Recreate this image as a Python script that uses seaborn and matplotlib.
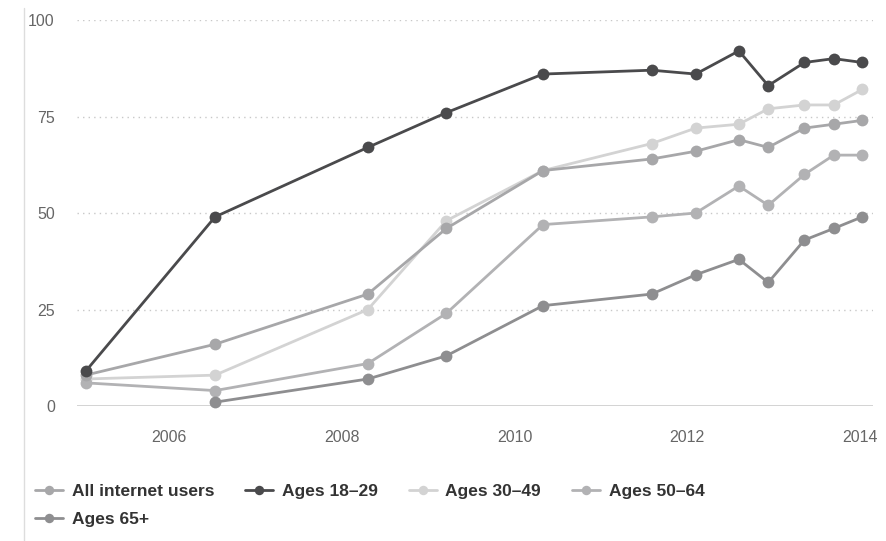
import matplotlib
matplotlib.use("Agg")
import matplotlib.pyplot as plt
import seaborn as sns
import pandas as pd
import numpy as np

# survey dates (fractional years) and share using social networking sites (%)
dates = [2005.03, 2006.53, 2008.30, 2009.21, 2010.33, 2011.59,
         2012.10, 2012.60, 2012.94, 2013.36, 2013.70, 2014.03]
all_users = [8, 16, 29, 46, 61, 64, 66, 69, 67, 72, 73, 74]
ages_18_29 = [9, 49, 67, 76, 86, 87, 86, 92, 83, 89, 90, 89]
ages_30_49 = [7, 8, 25, 48, 61, 68, 72, 73, 77, 78, 78, 82]
ages_50_64 = [6, 4, 11, 24, 47, 49, 50, 57, 52, 60, 65, 65]
ages_65 = [np.nan, 1, 7, 13, 26, 29, 34, 38, 32, 43, 46, 49]

series_names = ["All internet users", "Ages 18\u201329", "Ages 30\u201349",
                "Ages 50\u201364", "Ages 65+"]
series_values = [all_users, ages_18_29, ages_30_49, ages_50_64, ages_65]
colors = ["#a7a7a9", "#4a4a4c", "#d3d3d3", "#b2b2b4", "#8e8e90"]
x_ticks = [2006, 2008, 2010, 2012, 2014]
y_ticks = [0, 25, 50, 75, 100]

# long format for seaborn
frames = []
for name, vals in zip(series_names, series_values):
    frames.append(pd.DataFrame({"date": dates, "pct": vals, "group": name}))
df = pd.concat(frames, ignore_index=True).dropna()

sns.set_style("white")
plt.rcParams["font.family"] = ["Liberation Sans", "DejaVu Sans"]

fig = plt.figure(figsize=(8.86, 5.41), dpi=100)
ax = fig.add_axes([0.0869, 0.2495, 0.898, 0.7135])

# draw order: lighter lines first, dark line last on top
draw_order = ["Ages 30\u201349", "Ages 50\u201364", "All internet users", "Ages 65+", "Ages 18\u201329"]
for name in draw_order:
    c = colors[series_names.index(name)]
    sub = df[df["group"] == name]
    sns.lineplot(data=sub, x="date", y="pct", ax=ax, color=c, linewidth=2.0,
                 marker="o", markersize=8.5, markeredgewidth=0, label=name,
                 clip_on=False, zorder=3)

h, l = ax.get_legend_handles_labels()
lookup = dict(zip(l, h))
ax.get_legend().remove()

ax.set_xlim(2004.93, 2014.15)
ax.set_ylim(0, 100)
ax.set_xticks(x_ticks)
ax.set_yticks(y_ticks)
ax.set_xlabel("")
ax.set_ylabel("")

for y in [25, 50, 75, 100]:
    ax.axhline(y, color="#c8c8c8", linestyle=(0, (1, 3)), linewidth=1.0, zorder=1)
ax.axhline(0, color="#cccccc", linewidth=1.2, zorder=1)

for s in ax.spines.values():
    s.set_visible(False)
ax.tick_params(axis="both", length=0, labelcolor="#666666", labelsize=11.5)
ax.tick_params(axis="x", pad=17)
ax.tick_params(axis="y", pad=16)

# thin frame line at the left edge
fig.add_artist(plt.Line2D([0.027, 0.027], [0.0, 0.985], color="#dddddd", linewidth=1.0))

# legend: first column gets All + 65+, so rows read left to right
leg_order = ["All internet users", "Ages 65+", "Ages 18\u201329", "Ages 30\u201349", "Ages 50\u201364"]
leg = fig.legend([lookup[n] for n in leg_order], leg_order, ncol=4,
                 loc="upper left", bbox_to_anchor=(0.022, 0.134),
                 frameon=False, fontsize=12.5, handlelength=1.6,
                 handletextpad=0.5, columnspacing=1.8, labelspacing=0.75,
                 markerscale=0.8)
for t in leg.get_texts():
    t.set_color("#333333")
    t.set_fontweight("bold")

fig.savefig("out.png", dpi=100)
